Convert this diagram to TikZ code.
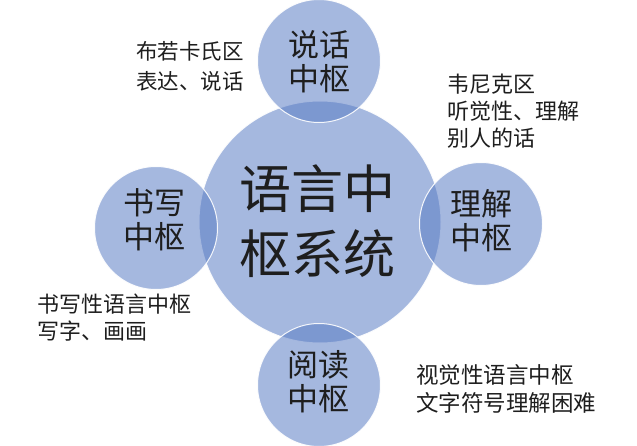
\documentclass[tikz,border=0pt]{standalone}
\usepackage{fontspec}
\newfontfamily\cjk{Noto Sans CJK SC}
\definecolor{bubble}{RGB}{90,125,197}
\definecolor{ink}{RGB}{30,30,30}
\begin{document}
\begin{tikzpicture}[x=1pt,y=-1pt,
  bub/.style={circle,fill=bubble,fill opacity=0.54,draw=white,draw opacity=0.9,line width=1pt,inner sep=0pt},
  bublabel/.style={text=ink,font=\cjk\fontsize{31}{34}\selectfont,align=center,inner sep=0pt},
  note/.style={text=ink,font=\cjk\fontsize{21.5}{28}\selectfont,align=left,inner sep=0pt,anchor=west}]
\path[use as bounding box,fill=white] (0,0) rectangle (637,446);
\node[bub,minimum size=242pt] (c) at (320,222) {};
\node[bub,minimum size=123pt] (t) at (319,61) {};
\node[bub,minimum size=123pt] (l) at (156,228) {};
\node[bub,minimum size=123pt] (r) at (481,224) {};
\node[bub,minimum size=123pt] (b) at (319,385) {};
\node[text=ink,font=\cjk\fontsize{52}{65}\selectfont,align=center,inner sep=0pt] (ct) at (317,221) {语言中\\枢系统};
\node[bublabel] (tt) at (319,62) {说话\\中枢};
\node[bublabel] (lt) at (154,220) {书写\\中枢};
\node[bublabel] (rt) at (481,221) {理解\\中枢};
\node[bublabel] (bt) at (318,382) {阅读\\中枢};
\node[note,font=\cjk\fontsize{21.5}{30}\selectfont] (n1) at (136,66) {布若卡氏区\\表达、说话};
\node[note,font=\cjk\fontsize{22}{27}\selectfont] (n2) at (447,111) {韦尼克区\\听觉性、理解\\别人的话};
\node[note,font=\cjk\fontsize{22}{27}\selectfont] (n3) at (37,318) {书写性语言中枢\\写字、画画};
\node[note,font=\cjk\fontsize{22.5}{28}\selectfont] (n4) at (416,389) {视觉性语言中枢\\文字符号理解困难};
\end{tikzpicture}
\end{document}
